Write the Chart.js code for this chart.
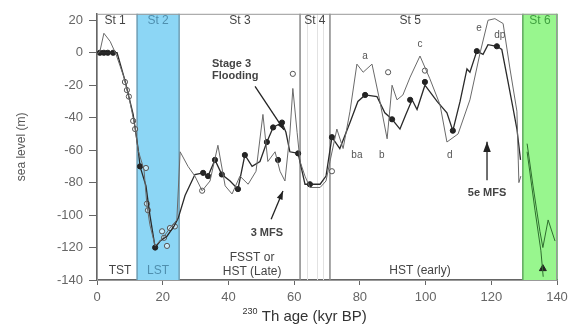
<!DOCTYPE html>
<html>
<head>
<meta charset="utf-8">
<script src="https://cdn.jsdelivr.net/npm/chart.js@4/dist/chart.umd.min.js"></script>
<style>
html,body{margin:0;padding:0;background:#fff;}
#wrap{width:574px;height:335px;position:relative;}
</style>
</head>
<body>
<div id="wrap"><canvas id="c"></canvas></div>
<script>
// ---- data (age in kyr BP, sea level in m) ----
const curveAAge   = [0,6.1,8.5,11.0,12.5,13.1,14.9,16.1,17.7,19.2,21.3,23.4,24.7,26.8,29.8,32.3,33.8,35.9,38.0,40.5,42.9,45.0,47.2,49.6,51.7,53.6,56.3,57.5,58.7,61.2,63.3,64.8,67.9,69.7,71.5,73.9,77.0,79.4,81.6,85.2,87.6,89.8,92.2,94.0,95.9,97.4,99.8,103.5,106.5,108.3,110.5,112.6,113.5,115.6,117.5,119.0,121.7,123.2,125.1,126.6,127.8,128.9];
const curveALevel = [0,0,-17,-38,-59,-70,-82,-100,-120,-116,-113,-107,-102,-88,-75,-74,-76,-66,-75,-79,-84,-63,-70,-67,-55,-46,-43,-49,-61,-62,-81,-81,-81,-76,-52,-59,-43,-30,-26,-27,-37,-41,-47,-38,-29,-35,-20,-30,-37,-48,-30,-10,-12,1,-1,5,4,2,-18,-34,-47,-66];
const curveBAge   = [0,0.9,2.1,4.0,5.8,8.2,10.0,11.6,12.5,14.3,15.2,16.1,17.7,20.1,22.2,24.3,25.3,27.7,29.8,32.0,34.4,36.8,39.0,41.1,43.5,46.0,48.4,50.5,52.0,54.2,55.7,57.2,58.7,59.6,60.9,61.8,63.3,64.8,67.9,69.7,70.9,73.0,74.9,77.0,79.1,81.0,83.7,86.1,88.3,89.8,91.3,93.1,95.3,98.3,101.3,104.4,106.5,109.9,113.5,116.6,119.0,121.1,123.6,125.7,127.8,128.4,129.0];
const curveBLevel = [-1,1,12,7,-1,-15,-30,-46,-60,-72,-94,-106,-119,-114,-108,-103,-61,-70,-76,-85,-79,-57,-82,-87,-76,-81,-73,-38,-67,-61,-73,-79,-50,-22,-49,-67,-76,-83,-83,-79,-67,-47,-59,-36,-7,-12,-7,-30,-53,-20,-29,-26,-15,-2,-16,-32,-55,-50,-29,0,20,21,18,-10,-36,-80,-76];
const stage6AAge   = [130.9,132.7,134.8,135.7,137.3,139.4];
const stage6ALevel = [-56,-82,-110,-120,-103,-116];
const stage6BAge   = [130.9,133.3,135.1,135.8];
const stage6BLevel = [-61,-97,-122,-138];
const filledAge   = [0.9,2.1,3.3,4.9,13.1,17.7,32.3,33.8,35.9,38.0,42.9,45.0,51.7,53.6,56.3,55.1,61.2,64.8,71.5,81.6,89.8,95.3,99.8,108.3,115.6,121.7];
const filledLevel = [0,0,0,0,-70,-120,-74,-76,-66,-75,-84,-63,-55,-46,-43,-66,-62,-81,-52,-26,-41,-29,-18,-48,1,4];
const openAge   = [8.5,9.1,9.7,11.0,11.6,14.9,15.2,15.5,19.8,20.4,21.3,22.2,23.7,32.0,59.6,71.5,88.6,99.8];
const openLevel = [-18,-23,-27,-42,-47,-71,-93,-97,-110,-114,-119,-108,-107,-85,-13,-73,-12,-11];
const triangleAge = [135.7];
const triangleLevel = [-133];
const xTicks = [0,20,40,60,80,100,120,140];
const yTicks = [-140,-120,-100,-80,-60,-40,-20,0,20];
const stageBands = [[12.2,25.0,'rgb(140,214,245)','#6f9fb5'],[129.6,140,'rgb(152,246,142)','#5fa85f']];
const stageLines = [61.8,70.9];
const stageNames = ['St 1','St 2','St 3','St 4','St 5','St 6'];
const stageNameAge = [5.5,18.6,43.5,66.3,95.3,134.8];
const tractNames = ['TST','LST','FSST or','HST (Late)','HST (early)'];
const tractAge = [7.0,18.6,47.2,47.2,98.3];
const tractLevel = [-134,-134,-126,-135,-134];
const letterNames = ['a','c','e','dp','ba','b','d'];
const letterAge = [81.6,98.3,116.3,122.6,79.1,86.7,107.4];
const letterLevel = [-2,5,15,11,-63,-63,-63];

const pts = (xs, ys) => xs.map((x, i) => ({x, y: ys[i]}));

const overlay = {
  id: 'overlay',
  beforeDatasetsDraw(chart) {
    const {ctx, chartArea: a, scales: {x, y}} = chart;
    ctx.save();
    ctx.strokeStyle = '#e2e2e2'; ctx.lineWidth = 1;
    [64.0, 67.1, 68.9].forEach(v => {
      const px = Math.round(x.getPixelForValue(v)) + 0.5;
      ctx.beginPath(); ctx.moveTo(px, a.top); ctx.lineTo(px, a.bottom); ctx.stroke();
    });
    stageBands.forEach(([f, t, fill, edge]) => {
      const x0 = x.getPixelForValue(f), x1 = x.getPixelForValue(t);
      ctx.fillStyle = fill;
      ctx.fillRect(x0, a.top, x1 - x0, a.bottom - a.top);
      ctx.strokeStyle = edge; ctx.lineWidth = 1.5;
      ctx.beginPath();
      ctx.moveTo(x0, a.top); ctx.lineTo(x0, a.bottom);
      ctx.moveTo(x1, a.top); ctx.lineTo(x1, a.bottom);
      ctx.stroke();
    });
    ctx.strokeStyle = '#888'; ctx.lineWidth = 1.5;
    stageLines.forEach(v => {
      const px = x.getPixelForValue(v);
      ctx.beginPath(); ctx.moveTo(px, a.top); ctx.lineTo(px, a.bottom); ctx.stroke();
    });
    ctx.strokeStyle = '#999'; ctx.lineWidth = 1;
    ctx.strokeRect(a.left + 0.5, a.top + 0.5, a.right - a.left - 1, a.bottom - a.top);
    ctx.restore();
  },
  afterDatasetsDraw(chart) {
    const {ctx, chartArea: a, scales: {x, y}} = chart;
    ctx.save();
    ctx.textAlign = 'center'; ctx.textBaseline = 'middle';
    const text = (s, ax, lv, font, color, align) => {
      ctx.font = font; ctx.fillStyle = color; ctx.textAlign = align || 'center';
      ctx.fillText(s, x.getPixelForValue(ax), y.getPixelForValue(lv));
    };
    const stageColors = ['#444','#4f8fae','#444','#444','#444','#3f9f3f'];
    stageNames.forEach((s, i) => text(s, stageNameAge[i], 20, '12px "Liberation Sans", Arial, sans-serif', stageColors[i]));
    const tractColors = ['#444','#4f8fae','#444','#444','#444'];
    tractNames.forEach((s, i) => text(s, tractAge[i], tractLevel[i], '12px "Liberation Sans", Arial, sans-serif', tractColors[i]));
    letterNames.forEach((s, i) => text(s, letterAge[i], letterLevel[i], '10px "Liberation Sans", Arial, sans-serif', '#555'));
    text('Stage 3', 35.0, -7, 'bold 11px "Liberation Sans", Arial, sans-serif', '#444', 'left');
    text('Flooding', 35.0, -14.5, 'bold 11px "Liberation Sans", Arial, sans-serif', '#444', 'left');
    text('3 MFS', 51.7, -111, 'bold 11px "Liberation Sans", Arial, sans-serif', '#444');
    text('5e MFS', 118.7, -86.5, 'bold 11px "Liberation Sans", Arial, sans-serif', '#444');
    const arrow = (ax0, l0, ax1, l1, head) => {
      const x0 = x.getPixelForValue(ax0), y0 = y.getPixelForValue(l0);
      const x1 = x.getPixelForValue(ax1), y1 = y.getPixelForValue(l1);
      ctx.strokeStyle = '#222'; ctx.fillStyle = '#222'; ctx.lineWidth = 1.3;
      ctx.beginPath(); ctx.moveTo(x0, y0); ctx.lineTo(x1, y1); ctx.stroke();
      const ang = Math.atan2(y1 - y0, x1 - x0);
      ctx.beginPath();
      ctx.moveTo(x1, y1);
      ctx.lineTo(x1 - head * Math.cos(ang - 0.35), y1 - head * Math.sin(ang - 0.35));
      ctx.lineTo(x1 - head * Math.cos(ang + 0.35), y1 - head * Math.sin(ang + 0.35));
      ctx.closePath(); ctx.fill();
    };
    arrow(48.1, -20.7, 56.9, -47.5, 8);
    arrow(53.0, -102.5, 56.6, -85.2, 9);
    arrow(118.7, -78.5, 118.7, -54.8, 11);
    const sx = x.getPixelForValue(44.3), by = 321;
    ctx.textAlign = 'left'; ctx.textBaseline = 'alphabetic'; ctx.fillStyle = '#333';
    ctx.font = '9px "Liberation Sans", Arial, sans-serif';
    ctx.fillText('230', sx, by - 7);
    const w = ctx.measureText('230').width;
    ctx.font = '15px "Liberation Sans", Arial, sans-serif';
    ctx.fillText(' Th age (kyr BP)', sx + w, by);
    ctx.restore();
  }
};

const axisFont = {family: '"Liberation Sans", Arial, sans-serif', size: 13};

new Chart(document.getElementById('c'), {
  type: 'line',
  data: {
    datasets: [
      {data: pts(curveBAge, curveBLevel), borderColor: '#6a6a6a', borderWidth: 1, pointRadius: 0, tension: 0},
      {data: pts(curveAAge, curveALevel), borderColor: '#2a2a2a', borderWidth: 1.3, pointRadius: 0, tension: 0},
      {data: pts(stage6AAge, stage6ALevel), borderColor: '#2e6e2e', borderWidth: 1, pointRadius: 0, tension: 0},
      {data: pts(stage6BAge, stage6BLevel), borderColor: '#2e6e2e', borderWidth: 1, pointRadius: 0, tension: 0},
      {data: pts(openAge, openLevel), showLine: false, pointRadius: 2.6, pointBackgroundColor: 'rgba(255,255,255,0.5)', pointBorderColor: '#555', pointBorderWidth: 1},
      {data: pts(filledAge, filledLevel), showLine: false, pointRadius: 2.6, pointBackgroundColor: '#222', pointBorderColor: '#222', pointBorderWidth: 1},
      {data: pts(triangleAge, triangleLevel), showLine: false, pointStyle: 'triangle', pointRadius: 4, pointBackgroundColor: '#222', pointBorderColor: '#222'}
    ]
  },
  options: {
    responsive: true,
    maintainAspectRatio: false,
    animation: false,
    devicePixelRatio: 1,
    layout: {padding: {top: 10, right: 17, left: 0, bottom: 0}},
    plugins: {legend: {display: false}, tooltip: {enabled: false}},
    scales: {
      x: {
        type: 'linear', min: 0, max: 140,
        afterBuildTicks: s => { s.ticks = xTicks.map(v => ({value: v})); },
        afterFit: s => { s.height = 55; },
        grid: {display: true, drawOnChartArea: false, drawTicks: true, tickLength: 5, color: '#666'},
        border: {display: true, color: '#666', width: 1.5},
        ticks: {font: axisFont, color: '#666', padding: 5, maxRotation: 0}
      },
      y: {
        type: 'linear', min: -140, max: 24,
        afterBuildTicks: s => { s.ticks = yTicks.map(v => ({value: v})); },
        afterFit: s => { s.width = 97; },
        grid: {display: true, drawOnChartArea: false, drawTicks: true, tickLength: 8, color: '#666'},
        border: {display: true, color: '#666', width: 1.5},
        ticks: {font: axisFont, color: '#666', padding: 6},
        title: {display: true, text: 'sea level (m)', font: {family: '"Liberation Sans", Arial, sans-serif', size: 12}, color: '#555', padding: {top: 14, bottom: 0}}
      }
    }
  },
  plugins: [overlay]
});
</script>
</body>
</html>
